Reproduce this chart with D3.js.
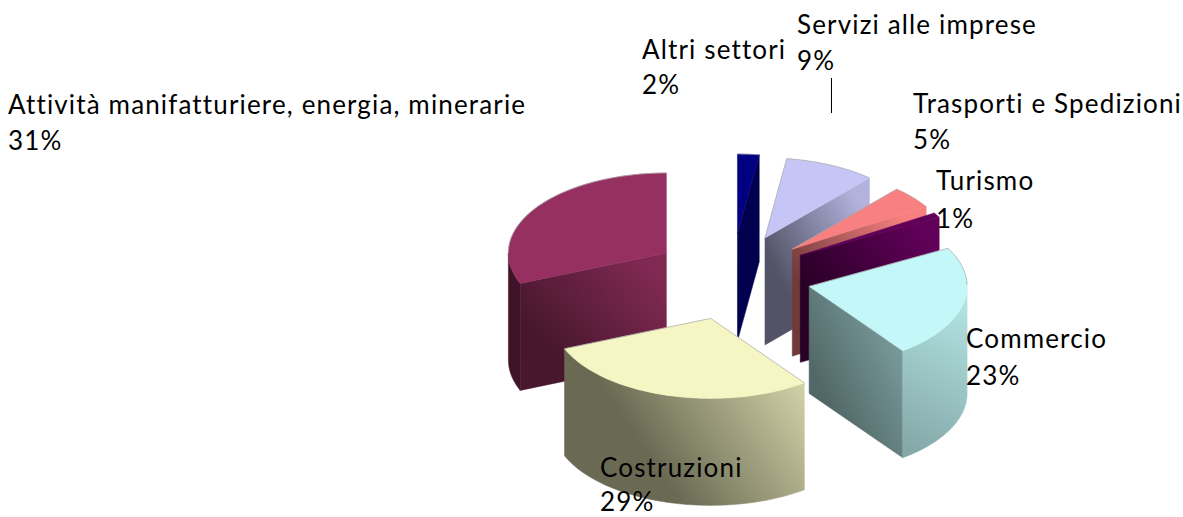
<!DOCTYPE html>
<html><head><meta charset="utf-8">
<script src="https://cdn.jsdelivr.net/npm/d3@7"></script>
<style>html,body{margin:0;padding:0;background:#fff}svg{display:block}text{font-family:Lato,"Open Sans",sans-serif;font-size:26px;letter-spacing:1.15px;fill:#000}</style>
</head><body><svg id="c" width="1183" height="517"></svg>
<script>
const categories=["Altri settori","Servizi alle imprese","Trasporti e Spedizioni","Turismo","Commercio","Costruzioni","Attività manifatturiere, energia, minerarie"];
const values=[2.2,9.3,4.6,1.0,22.8,28.9,31.2];
const percentLabels=["2%","9%","5%","1%","23%","29%","31%"];
const topColors=["#000080","#c6c6f6","#f88080","#600058","#c4f8f8","#f6f6c4","#963060"];
const radialShade=[[.62,.62],[.42,.9],[.45,1],[.42,1],[.42,.64],[.45,.85],[.48,.85]];
const outerShade=[[.5,.5],[.5,.9],[.6,.9],[.5,.8],[.92,.68],[.43,.85],[.42,.42]];
const labelPos=[[642,59,94],[797,34,70],[913,113,149],[936,190,228],[966,348,385],[600,477,511],[8,114,150]];

const cx=732,cy=277,rx=158,ry=80,depth=107,explodeX=.5,explodeY=.5375;
const X=d3.scaleLinear().domain([-1,1]).range([cx-rx,cx+rx]);
const Y=d3.scaleLinear().domain([-1,1]).range([cy-ry,cy+ry]);
const svg=d3.select("#c"),defs=svg.append("defs");
const pie=d3.pie().sort(null).value(d=>d).startAngle(0).endAngle(2*Math.PI);
const arcs=pie(values);
const line=d3.line();
let gid=0;
function grad(base,[k0,k1],v){
  const id="g"+(gid++);const b=d3.rgb(base);
  const sh=k=>d3.rgb(b.r*k,b.g*k,b.b*k).formatHex();
  const g=defs.append("linearGradient").attr("id",id)
    .attr("x1",v[0]).attr("y1",v[1]).attr("x2",v[2]).attr("y2",v[3]);
  g.append("stop").attr("offset",v[4]).attr("stop-color",sh(k0));
  g.append("stop").attr("offset",1).attr("stop-color",sh(k1));
  return `url(#${id})`;
}
const diagonal=[.1,.85,.9,.15,.18], vertical=[.6,0,.4,1,0], sweep=[.2,.6,1,.25,.12];
const slices=arcs.map((a,i)=>{
  const mid=(a.startAngle+a.endAngle)/2;
  const ax=explodeX*Math.sin(mid),ay=-explodeY*Math.cos(mid);
  const pt=(t,r=1,dz=0)=>[X(ax+r*Math.sin(t)),Y(ay-r*Math.cos(t))+dz];
  return {a,i,pt,apexY:pt(0,0)[1]};
}).sort((p,q)=>p.apexY-q.apexY);

const g=svg.append("g");
slices.forEach(({a,i,pt})=>{
  const base=topColors[i],s=a.startAngle,e=a.endAngle;
  const face=(pts,fill)=>g.append("path").attr("d",line(pts)+"Z").attr("fill",fill)
    .attr("stroke",fill).attr("stroke-width",.5);
  const edge=(pts)=>g.append("path").attr("d",line(pts)).attr("fill","none")
    .attr("stroke","#a8a8a8").attr("stroke-width",.7);
  const wall=t=>[pt(0,0),pt(t),pt(t,1,depth),pt(0,0,depth)];
  if(Math.sin(s)<-1e-6) face(wall(s),grad(base,radialShade[i],diagonal));
  if(Math.sin(e)>1e-6) face(wall(e),grad(base,radialShade[i],diagonal));
  const lo=Math.max(s,Math.PI/2),hi=Math.min(e,3*Math.PI/2);
  if(hi>lo){
    const ts=d3.range(0,61).map(k=>lo+(hi-lo)*k/60);
    const pts=ts.map(t=>pt(t)).concat(ts.slice().reverse().map(t=>pt(t,1,depth)));
    face(pts,grad(base,outerShade[i],i===4?vertical:i===5?sweep:diagonal));
  }
  const ts=d3.range(0,61).map(k=>s+(e-s)*k/60);
  face([pt(0,0)].concat(ts.map(t=>pt(t))),base);
  const back=ts.filter(t=>Math.cos(t)>=-.01);
  if(back.length>1&&i!==3){
    if(back[0]===s&&back[back.length-1]===e) edge(ts.map(t=>pt(t)));
    else if(back[0]===s) edge(ts.filter(t=>t<=Math.PI/2).map(t=>pt(t)));
    else edge(ts.filter(t=>t>=3*Math.PI/2).map(t=>pt(t)));
  }
  if(Math.sin(s)>1e-6&&i!==3) edge([pt(0,0),pt(s)]);
  if(Math.sin(e)<-1e-6) edge([pt(0,0),pt(e)]);
});
svg.append("line").attr("x1",831.5).attr("x2",831.5).attr("y1",78).attr("y2",113).attr("stroke","#000").attr("stroke-width",1);
categories.forEach((c,i)=>{
  const [x,y1,y2]=labelPos[i];
  svg.append("text").attr("x",x).attr("y",y1).text(c);
  svg.append("text").attr("x",x).attr("y",y2).text(percentLabels[i]);
});
</script></body></html>
